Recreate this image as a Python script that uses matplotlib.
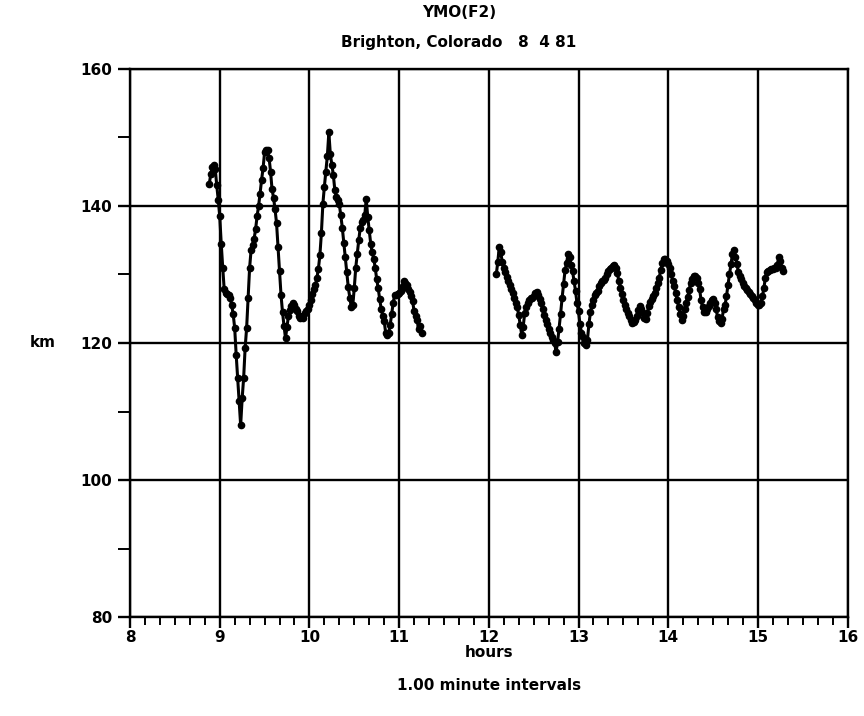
import matplotlib.pyplot as plt
import numpy as np

plt.rcParams['font.family'] = ['DejaVu Sans']
plt.rcParams['font.weight'] = 'bold'

# two runs of 1-minute readings, start times in hours
start1 = 8 + 53 / 60
start2 = 12 + 5 / 60

# km, 8:53 - 11:15
km1 = [143.2, 144.6, 145.6, 146.0, 145.4, 143.0, 140.9, 138.5, 134.5, 131.0,
       127.8, 127.3, 127.2, 127.0, 126.6, 125.5, 124.2, 122.2, 118.3, 114.9,
       111.6, 108.0, 111.9, 114.9, 119.3, 122.2, 126.6, 131.0, 133.6, 134.3,
       135.2, 136.6, 138.5, 140.0, 141.8, 143.8, 145.5, 147.8, 148.2, 148.1,
       147.0, 145.0, 142.4, 141.2, 139.5, 137.5, 134.0, 130.5, 127.0, 124.5,
       122.5, 120.7, 122.3, 124.0, 124.8, 125.4, 125.9, 125.5, 125.0, 124.6,
       124.0, 123.7, 124.0, 123.7, 124.3, 124.7, 125.0,
       125.6, 126.3, 127.1, 127.8, 128.4, 129.5, 130.8, 132.8, 136.0, 140.3,
       142.8, 145.0, 147.3, 150.7, 147.5, 146.0, 144.5, 142.3, 141.3, 140.8,
       140.2, 138.6, 136.8, 134.6, 132.5, 130.3, 128.1, 126.6, 125.2, 125.5,
       128.0, 131.0, 133.0, 135.0, 136.8, 137.6, 137.9, 138.6, 141.0, 138.4,
       136.5, 134.5, 133.2, 132.3, 131.0, 129.3, 128.0, 126.4, 125.0, 124.0,
       123.2, 121.5, 121.2, 121.5, 122.6, 124.2, 125.8, 127.0, 127.0, 127.1,
       127.3, 127.6, 128.2, 129.0, 128.8, 128.4, 127.8, 127.4, 126.9, 126.1,
       124.7, 124.0, 123.4, 122.0, 122.5, 121.5]

# km, 12:05 - 15:17
km2 = [130.0, 131.8, 134.0, 133.2, 131.8, 131.0, 130.3, 129.6, 129.0, 128.4,
       127.8, 127.3, 126.6, 125.9, 125.2, 124.1, 122.6, 121.2, 122.4, 124.3,
       125.3, 125.9, 126.3, 126.5, 126.6, 126.9, 127.3, 127.5, 127.0, 126.4,
       125.8, 125.0, 124.1, 123.3, 122.7, 122.1, 121.5, 120.8, 120.4, 120.0,
       118.7, 120.1, 122.1, 124.2, 126.5, 128.6, 130.6, 131.6, 133.0, 132.6,
       131.4, 130.5, 129.0, 127.6, 125.8, 124.6, 122.7, 121.5, 120.8, 120.0,
       119.7, 120.5, 122.8, 124.5, 125.5, 126.3, 127.0, 127.3, 127.6, 128.3,
       128.8, 129.0, 129.2, 129.5, 130.0, 130.5, 130.8, 131.0, 131.2, 131.3,
       131.0, 130.2, 129.0, 128.0, 127.2, 126.3, 125.5, 124.9, 124.4, 123.9,
       123.4, 122.9, 123.0, 123.4, 124.0, 124.8, 125.4, 124.9, 124.3, 123.6,
       123.5, 124.4, 125.4, 126.0, 126.4, 126.8, 127.3, 128.0, 128.7, 129.5,
       130.7, 131.6, 132.2, 132.3, 132.0,
       131.5, 131.0, 130.0, 129.0, 128.3, 127.3, 126.3, 125.2, 124.2, 123.4,
       124.0, 124.9, 125.8, 126.7, 127.7, 128.8, 129.4, 129.7, 129.8, 129.5,
       128.8, 127.9, 126.2, 125.2, 124.5, 124.5, 125.0, 125.4, 125.8, 126.2,
       126.4, 125.8, 125.0, 123.8, 123.2, 122.9, 123.5, 124.9, 125.5, 126.8,
       128.5, 130.0, 131.5, 133.0, 133.5, 132.6, 131.5, 130.3, 129.8, 129.3,
       128.8, 128.3, 128.0, 127.7, 127.4, 127.2, 126.9, 126.6, 126.3, 125.9,
       125.6, 125.5, 125.9, 126.8, 128.0, 129.5, 130.3, 130.5, 130.7, 130.8,
       130.8, 130.9, 131.0, 131.4, 132.5, 132.0, 131.0, 130.5]

fig = plt.figure(figsize=(8.64, 7.16), dpi=100)
ax = fig.add_axes([0.1505, 0.138, 0.8305, 0.766])

for start, km in [(start1, km1), (start2, km2)]:
    t = start + np.arange(len(km)) / 60
    ax.plot(t, km, color='black', lw=2.2, marker='o', ms=4.5,
            mfc='black', mec='black', zorder=3)

ax.set_xlim(8, 16)
ax.set_ylim(80, 160)
ax.set_xticks(range(8, 17))
ax.set_yticks(range(80, 161, 20))
ax.set_xticks(np.arange(8, 16.01, 1 / 6), minor=True)
ax.set_yticks([90, 110, 130, 150], minor=True)
ax.grid(True, which='major', color='black', lw=1.7)
for s in ax.spines.values():
    s.set_linewidth(1.7)

ax.tick_params(axis='x', which='major', direction='out', length=8, width=1.7,
               labelsize=11, pad=1)
ax.tick_params(axis='x', which='minor', direction='out', length=6, width=1.4)
ax.tick_params(axis='y', which='major', direction='out', length=9, width=1.7,
               labelsize=11, pad=4)
ax.tick_params(axis='y', which='minor', direction='out', length=9, width=1.4)

ax.set_xlabel('hours', fontsize=11, fontweight='bold', labelpad=0)
fig.text(0.035, 0.522, 'km', fontsize=11, fontweight='bold', va='center')
fig.text(0.531, 0.983, 'YMO(F2)', fontsize=11, fontweight='bold',
         ha='center', va='center')
fig.text(0.531, 0.941, 'Brighton, Colorado   8  4 81', fontsize=11,
         fontweight='bold', ha='center', va='center')
fig.text(0.566, 0.042, '1.00 minute intervals', fontsize=11,
         fontweight='bold', ha='center', va='center')

fig.savefig('out.png', dpi=100)
